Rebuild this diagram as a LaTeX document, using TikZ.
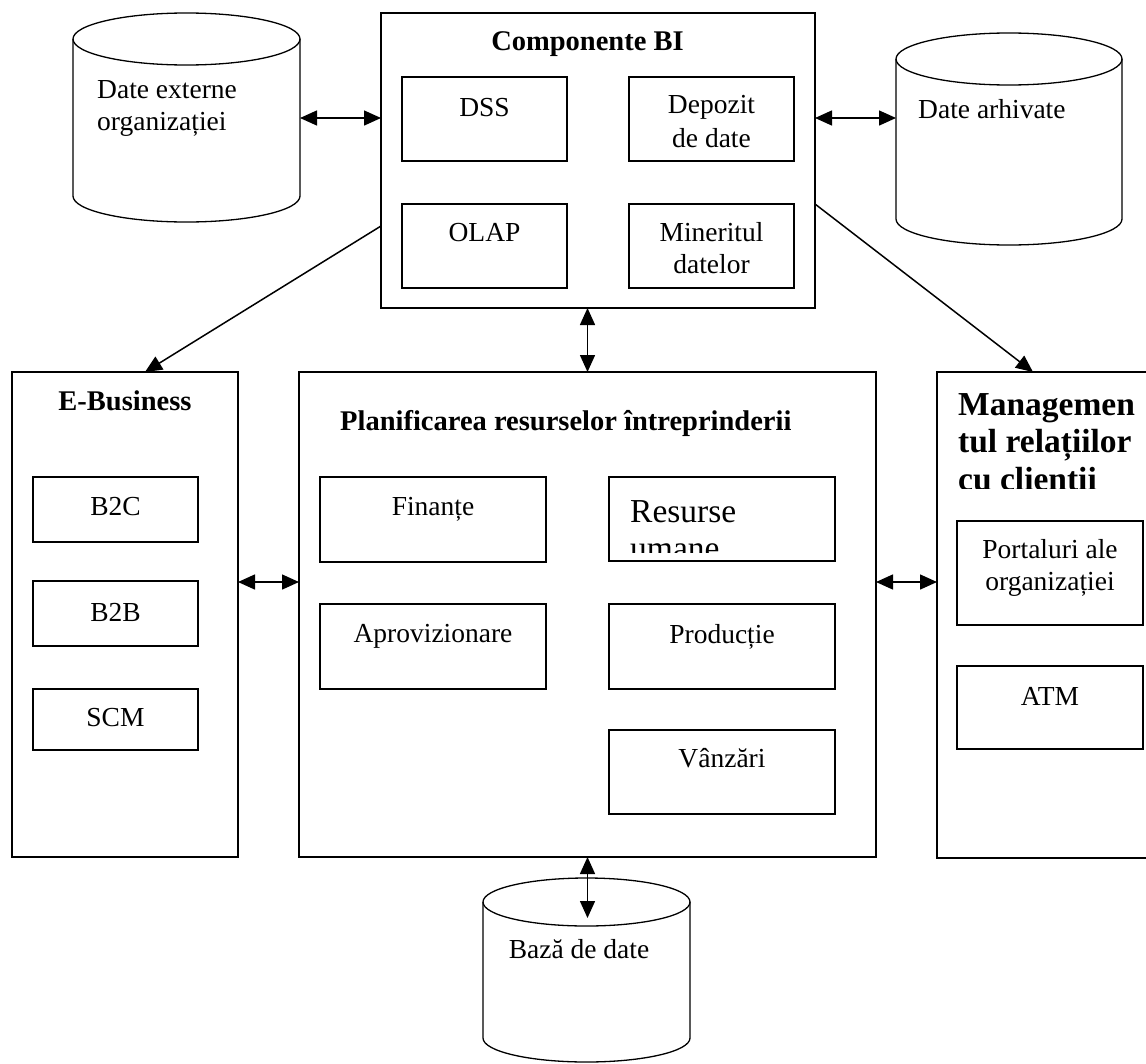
\documentclass[tikz,border=0pt]{standalone}
\usepackage{fontspec}
\setmainfont{Liberation Serif}
\usetikzlibrary{arrows.meta}
\tikzset{
  box/.style={draw, line width=1.6pt, inner sep=0pt, outer sep=0pt, anchor=north west},
  cylbody/.style={inner sep=0pt, outer sep=0pt, anchor=north west},
  cylline/.style={line width=1.3pt},
  lbl/.style={anchor=base, inner sep=0pt, font=\fontsize{27.5}{33}\selectfont},
  lbll/.style={anchor=base west, inner sep=0pt, font=\fontsize{27.5}{33}\selectfont},
  ttl/.style={anchor=base, inner sep=0pt, font=\bfseries\fontsize{28.5}{33}\selectfont},
  bigl/.style={anchor=base west, inner sep=0pt, font=\fontsize{33.5}{38}\selectfont},
  bigb/.style={anchor=base west, inner sep=0pt, font=\bfseries\fontsize{33.5}{38}\selectfont},
  dbl/.style={{Triangle[length=17pt,width=15pt]}-{Triangle[length=17pt,width=15pt]}, line width=1.5pt},
  sgl/.style={-{Triangle[length=17pt,width=15pt]}, line width=1.5pt}
}
\begin{document}
\begin{tikzpicture}[x=1pt,y=-1pt]
\path[use as bounding box] (0,0) rectangle (1146,1063);
\clip (0,0) rectangle (1146,1063);

% ---------- cylinders ----------
\node[cylbody, minimum width=227pt, minimum height=209pt] (cylL) at (73,13) {};
\draw[cylline] ([yshift=-26pt]cylL.north) ellipse [x radius=113.5pt, y radius=26pt];
\draw[cylline] ([yshift=-26pt]cylL.north west) -- ([yshift=26pt]cylL.south west)
  arc[start angle=180, end angle=360, x radius=113.5pt, y radius=26pt] -- ([yshift=-26pt]cylL.north east);
\node[lbll] (dext1) at (97,98) {Date externe};
\node[lbll] (dext2) at (97,130) {organizației};

\node[cylbody, minimum width=226pt, minimum height=212pt] (cylR) at (896,33) {};
\draw[cylline] ([yshift=-26pt]cylR.north) ellipse [x radius=113pt, y radius=26pt];
\draw[cylline] ([yshift=-26pt]cylR.north west) -- ([yshift=26pt]cylR.south west)
  arc[start angle=180, end angle=360, x radius=113pt, y radius=26pt] -- ([yshift=-26pt]cylR.north east);
\node[lbll] (darh) at (918,118) {Date arhivate};

\node[cylbody, minimum width=207pt, minimum height=184pt] (cylB) at (483,878) {};
\draw[cylline] ([yshift=-24pt]cylB.north) ellipse [x radius=103.5pt, y radius=24pt];
\draw[cylline] ([yshift=-24pt]cylB.north west) -- ([yshift=24pt]cylB.south west)
  arc[start angle=180, end angle=360, x radius=103.5pt, y radius=24pt] -- ([yshift=-24pt]cylB.north east);
\node[lbl] (dbaza) at (579,958) {Bază de date};

% ---------- Componente BI ----------
\node[box, minimum width=434pt, minimum height=295pt] (BI) at (381,13) {};
\node[ttl] (BIt) at (587.5,50) {Componente BI};
\node[box, minimum width=165pt, minimum height=84pt] (DSS) at (402,77) {};
\node[lbl] (DSSt) at (484.5,116) {DSS};
\node[box, minimum width=165pt, minimum height=84pt] (DEP) at (629,77) {};
\node[lbl] (DEPt1) at (711.5,113) {Depozit};
\node[lbl] (DEPt2) at (711.5,147) {de date};
\node[box, minimum width=165pt, minimum height=84pt] (OLAP) at (402,204) {};
\node[lbl] (OLAPt) at (484.5,241) {OLAP};
\node[box, minimum width=165pt, minimum height=84pt] (MIN) at (629,204) {};
\node[lbl] (MINt1) at (711.5,241) {Mineritul};
\node[lbl] (MINt2) at (711.5,273) {datelor};

% ---------- E-Business ----------
\node[box, minimum width=226pt, minimum height=485pt] (EB) at (12,372) {};
\node[ttl] (EBt) at (125,410) {E-Business};
\node[box, minimum width=165pt, minimum height=65pt] (B2C) at (33,477) {};
\node[lbl] (B2Ct) at (115.5,515) {B2C};
\node[box, minimum width=165pt, minimum height=65pt] (B2B) at (33,581) {};
\node[lbl] (B2Bt) at (115.5,621) {B2B};
\node[box, minimum width=165pt, minimum height=61pt] (SCM) at (33,689) {};
\node[lbl] (SCMt) at (115.5,726) {SCM};

% ---------- ERP ----------
\node[box, minimum width=577pt, minimum height=485pt] (ERP) at (299,372) {};
\node[ttl, anchor=base west] (ERPt) at (340,430) {Planificarea resurselor întreprinderii};
\node[box, minimum width=226pt, minimum height=85pt] (FIN) at (320,477) {};
\node[lbl] (FINt) at (433,515) {Finanțe};
\node[box, minimum width=226pt, minimum height=84pt] (RES) at (609,477) {};
\node[bigl] (RESt1) at (630,522) {Resurse};
\begin{scope}
  \clip (609,477) rectangle (835,552);
  \node[bigl] (RESt2) at (630,559) {umane};
\end{scope}
\node[box, minimum width=226pt, minimum height=85pt] (APR) at (320,604) {};
\node[lbl] (APRt) at (433,642) {Aprovizionare};
\node[box, minimum width=226pt, minimum height=85pt] (PROD) at (609,604) {};
\node[lbl] (PRODt) at (722,643) {Producție};
\node[box, minimum width=226pt, minimum height=84pt] (VAN) at (609,730) {};
\node[lbl] (VANt) at (722,767) {Vânzări};

% ---------- CRM ----------
\node[box, minimum width=230pt, minimum height=486pt] (CRM) at (937,372) {};
\node[bigb] (CRMt1) at (958,415) {Managemen};
\node[bigb] (CRMt2) at (958,452) {tul relațiilor};
\begin{scope}
  \clip (940,460) rectangle (1146,488);
  \node[bigb] (CRMt3) at (958,490) {cu clienții};
\end{scope}
\node[box, minimum width=186pt, minimum height=104pt] (PORT) at (957,521) {};
\node[lbl] (PORTt1) at (1050,558) {Portaluri ale};
\node[lbl] (PORTt2) at (1050,590) {organizației};
\node[box, minimum width=186pt, minimum height=83pt] (ATM) at (957,666) {};
\node[lbl] (ATMt) at (1050,705) {ATM};

% ---------- connectors ----------
\coordinate (dbtip) at (587.5,918);
\draw[dbl] (cylL.east |- 0,118) -- (BI.west |- 0,118);
\draw[dbl] (BI.east |- 0,118) -- (cylR.west |- 0,118);
\draw[sgl] (BI.west |- 0,226) -- (EB.north -| 145,0);
\draw[sgl] (BI.east |- 0,204) -- (CRM.north -| 1033,0);
\draw[dbl] (BI.south -| ERP.north) -- (ERP.north);
\draw[dbl] (EB.east |- 0,582) -- (ERP.west |- 0,582);
\draw[dbl] (ERP.east |- 0,582) -- (CRM.west |- 0,582);
\draw[dbl] (ERP.south) -- (dbtip);
\end{tikzpicture}
\end{document}
